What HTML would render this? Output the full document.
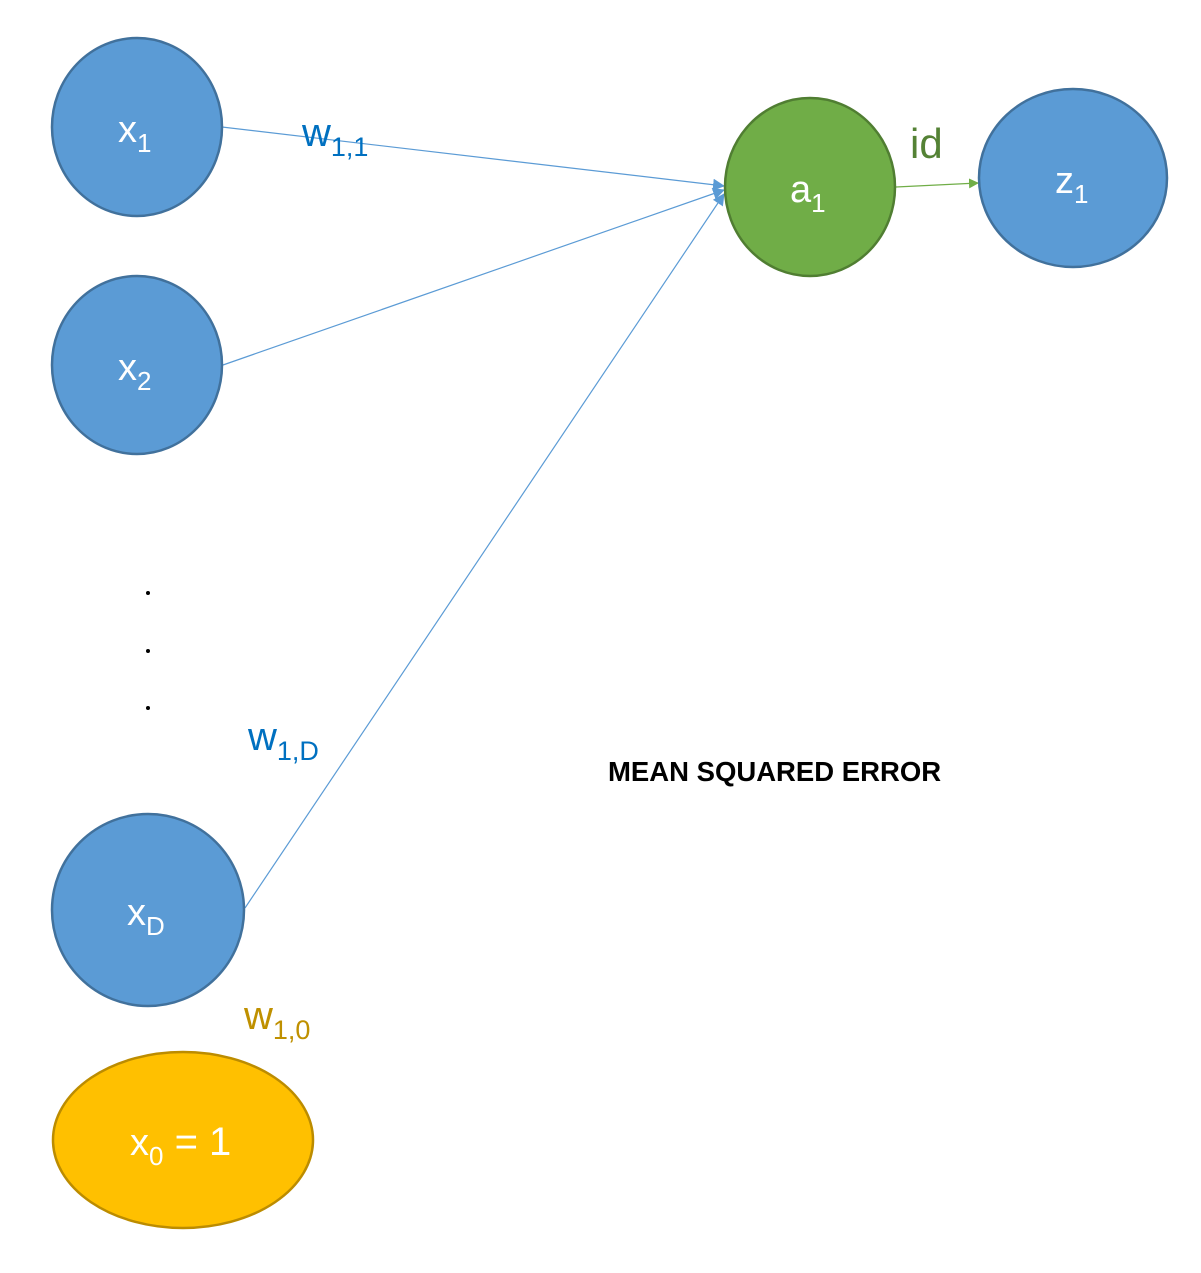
<!DOCTYPE html>
<html><head><meta charset="utf-8"><style>
html,body{margin:0;padding:0;background:#fff;}
svg{display:block;}
text{font-family:"Liberation Sans",sans-serif;}
</style></head><body>
<svg width="1201" height="1273" viewBox="0 0 1201 1273" xmlns="http://www.w3.org/2000/svg">
<defs>
<marker id="ab" markerWidth="12" markerHeight="12" refX="11" refY="6" orient="auto" markerUnits="userSpaceOnUse"><path d="M0,0 L12,6 L0,12 Z" fill="#5b9bd5"/></marker>
<marker id="ag" markerWidth="10" markerHeight="10" refX="9" refY="5" orient="auto" markerUnits="userSpaceOnUse"><path d="M0,0 L10,5 L0,10 Z" fill="#70ad47"/></marker>
</defs>
<g stroke="#5b9bd5" stroke-width="1.2" fill="none">
<line x1="222" y1="127" x2="724" y2="186" marker-end="url(#ab)"/>
<line x1="223" y1="365" x2="724" y2="190" marker-end="url(#ab)"/>
<line x1="245" y1="908" x2="724" y2="194" marker-end="url(#ab)"/>
</g>
<line x1="896" y1="187" x2="978" y2="183" stroke="#70ad47" stroke-width="1.2" marker-end="url(#ag)"/>
<g stroke-width="2.5">
<ellipse cx="137" cy="127" rx="85" ry="89" fill="#5b9bd5" stroke="#41719c"/>
<ellipse cx="137" cy="365" rx="85" ry="89" fill="#5b9bd5" stroke="#41719c"/>
<ellipse cx="148" cy="910" rx="96" ry="96" fill="#5b9bd5" stroke="#41719c"/>
<ellipse cx="183" cy="1140" rx="130" ry="88" fill="#ffc000" stroke="#bc8c00"/>
<ellipse cx="810" cy="187" rx="85" ry="89" fill="#70ad47" stroke="#507e32"/>
<ellipse cx="1073" cy="178" rx="94" ry="89" fill="#5b9bd5" stroke="#41719c"/>
</g>
<g fill="#fff" font-size="38">
<text x="118" y="142">x<tspan font-size="26" dy="10">1</tspan></text>
<text x="118" y="380">x<tspan font-size="26" dy="10">2</tspan></text>
<text x="127" y="925">x<tspan font-size="26" dy="10">D</tspan></text>
<text x="130" y="1155">x<tspan font-size="26" dy="10">0</tspan><tspan font-size="40" dy="-10"> = 1</tspan></text>
<text x="790" y="202">a<tspan font-size="26" dy="10">1</tspan></text>
<text x="1055" y="193">z<tspan font-size="26" dy="10">1</tspan></text>
</g>
<text x="302" y="146" font-size="40" fill="#0070c0">w<tspan font-size="27" dy="10">1,1</tspan></text>
<text x="248" y="750" font-size="40" fill="#0070c0">w<tspan font-size="27" dy="10">1,D</tspan></text>
<text x="244" y="1029" font-size="40" fill="#bf9000">w<tspan font-size="27" dy="10">1,0</tspan></text>
<text x="910" y="158" font-size="42" fill="#548235">id</text>
<text x="608" y="781" font-size="27.5" font-weight="bold" fill="#000">MEAN SQUARED ERROR</text>
<g fill="#000"><circle cx="148" cy="593" r="2"/><circle cx="148" cy="651" r="2"/><circle cx="148" cy="708" r="2"/></g>
</svg>
</body></html>
